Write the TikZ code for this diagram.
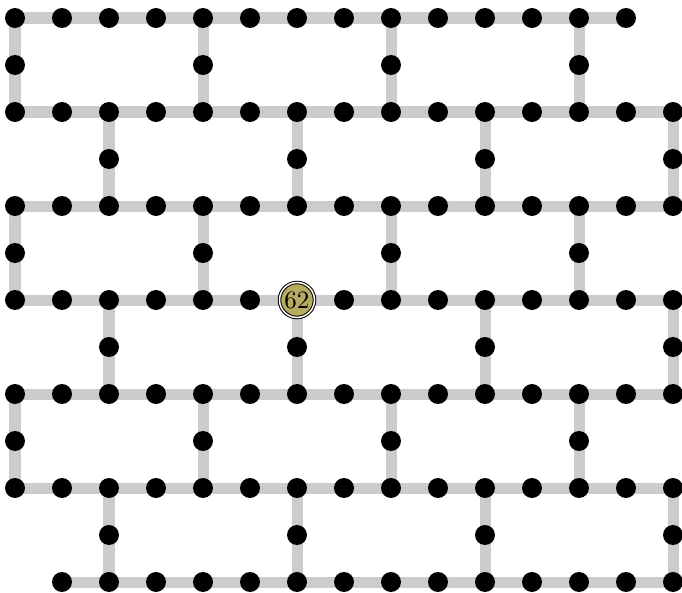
\documentclass[tikz,border=0pt]{standalone}
\usetikzlibrary{backgrounds}
\definecolor{edgegray}{RGB}{204,204,204}
\definecolor{oliv}{RGB}{181,171,97}
\tikzset{
  dot/.style={circle,fill=black,inner sep=0pt,minimum size=8pt},
  edge/.style={draw=edgegray,line width=4.4pt},
  special/.style={circle,fill=oliv,draw=black,double=white,line width=0.4pt,double distance=0.6pt,inner sep=0pt,minimum size=14pt,font=\normalsize}
}
\begin{document}
\begin{tikzpicture}[x=0.4pt,y=-0.4pt]
\useasboundingbox (0,0) rectangle (682,593);
% full rows
\foreach \j in {2,4,8,10}{
  \foreach \i in {0,...,14}{
    \node[dot] (n-\i-\j) at (\i*47+15,\j*47+18) {};
  }
}
\foreach \i in {0,...,5,7,8,...,14}{
  \node[dot] (n-\i-6) at (\i*47+15,6*47+18) {};
}
\node[special] (n-6-6) at (6*47+15,6*47+18) {62};
\foreach \i in {0,...,13}{
  \node[dot] (n-\i-0) at (\i*47+15,18) {};
}
\foreach \i in {1,...,14}{
  \node[dot] (n-\i-12) at (\i*47+15,12*47+18) {};
}
% odd rows
\foreach \j in {1,5,9}{
  \foreach \i in {0,4,8,12}{
    \node[dot] (n-\i-\j) at (\i*47+15,\j*47+18) {};
  }
}
\foreach \j in {3,7,11}{
  \foreach \i in {2,6,10,14}{
    \node[dot] (n-\i-\j) at (\i*47+15,\j*47+18) {};
  }
}
\begin{scope}[on background layer]
  \draw[edge] (n-0-0.center) -- (n-13-0.center);
  \draw[edge] (n-1-12.center) -- (n-14-12.center);
  \foreach \j in {2,4,6,8,10}{
    \draw[edge] (n-0-\j.center) -- (n-14-\j.center);
  }
  \foreach \j/\k in {0/2,4/6,8/10}{
    \foreach \i in {0,4,8,12}{
      \draw[edge] (n-\i-\j.center) -- (n-\i-\k.center);
    }
  }
  \foreach \j/\k in {2/4,6/8,10/12}{
    \foreach \i in {2,6,10,14}{
      \draw[edge] (n-\i-\j.center) -- (n-\i-\k.center);
    }
  }
\end{scope}
\end{tikzpicture}
\end{document}
